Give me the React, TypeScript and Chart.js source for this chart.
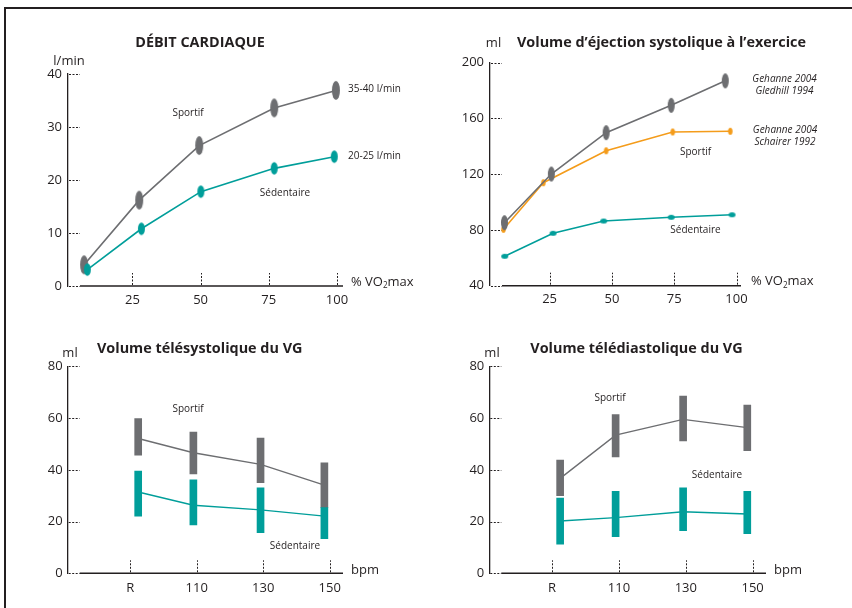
import React, { useEffect, useRef } from 'react';
import { Chart, registerables } from 'chart.js';
Chart.register(...registerables);

const INK = '#231f20';
const GRAY = '#6d6e71';
const TEAL = '#009e9a';
const ORANGE = '#f49c1b';
const FONT = '"Open Sans", "Noto Sans", sans-serif';

// ---------- Débit cardiaque ----------
const dcTicksX = [25, 50, 75, 100];
const dcTicksY = [0, 10, 20, 30, 40];
const dcSportifX = [7.3, 27.5, 49.5, 77, 99.6];
const dcSportifY = [4, 16.2, 26.5, 33.6, 36.9];
const dcSedX = [8.5, 28.3, 50.1, 77, 99];
const dcSedY = [3.1, 10.8, 17.8, 22.2, 24.4];

// ---------- Volume d'éjection systolique ----------
const vesTicksX = [25, 50, 75, 100];
const vesTicksY = [40, 80, 120, 160, 200];
const vesGledhillX = [6.9, 25.7, 47.7, 73.8, 95.5];
const vesGledhillY = [85.2, 120.1, 149.8, 169.4, 187];
const vesSchairerX = [6.5, 22.5, 47.7, 74.4, 97.5];
const vesSchairerY = [80.5, 113.9, 136.8, 150.3, 150.8];
const vesSedX = [7, 26.4, 46.7, 73.8, 98.2];
const vesSedY = [61.1, 77.6, 86.4, 89.1, 90.9];

// ---------- Volumes VG (bpm) ----------
const bpmLabels = ['R', '110', '130', '150'];
const bpmTickPos = [0, 1, 2, 3];
const bpmMarkPos = [0.12, 0.95, 1.96, 2.92];
const vgTicksY = [0, 20, 40, 60, 80];

const vtsSportifLow = [45.7, 38.4, 35, 25.4];
const vtsSportifHigh = [59.8, 54.6, 52.3, 42.7];
const vtsSportifMid = [52.1, 46.6, 42.1, 34.1];
const vtsSedLow = [22.1, 18.7, 15.7, 13.4];
const vtsSedHigh = [39.5, 36.1, 33, 25.4];
const vtsSedMid = [31.4, 26.3, 24.5, 22.1];

const vtdSportifLow = [30, 45, 51.2, 47.4];
const vtdSportifHigh = [43.8, 61.3, 68.5, 65];
const vtdSportifMid = [36.7, 53.4, 59.5, 56.3];
const vtdSedLow = [11.3, 14.2, 16.5, 15.3];
const vtdSedHigh = [29.1, 31.7, 33, 31.7];
const vtdSedMid = [20.2, 21.5, 23.8, 22.9];

type TextItem = {
  t: string; x: number; y: number; size?: number; bold?: boolean; italic?: boolean;
  align?: CanvasTextAlign; vo2?: boolean;
};

function ellipseImg(w: number, h: number, color: string) {
  const c = document.createElement('canvas');
  const pw = Math.ceil(w) + 2;
  const ph = Math.ceil(h) + 2;
  c.width = pw;
  c.height = ph;
  const ctx = c.getContext('2d')!;
  ctx.fillStyle = color;
  ctx.beginPath();
  ctx.ellipse(pw / 2, ph / 2, w / 2, h / 2, 0, 0, Math.PI * 2);
  ctx.fill();
  return c;
}

function font(size: number, bold?: boolean, italic?: boolean) {
  return `${italic ? 'italic ' : ''}${bold ? 'bold ' : ''}${size}px ${FONT}`;
}

function makeDecor(texts: TextItem[]) {
  return {
    id: 'decor',
    beforeDatasetsDraw(chart: any) {
      const { ctx, chartArea: a, scales } = chart;
      const xs = scales.x;
      const ys = scales.y;
      ctx.save();
      ctx.strokeStyle = INK;
      ctx.lineWidth = 1;
      ctx.setLineDash([2, 1.5]);
      for (const t of ys.ticks) {
        const y = Math.round(ys.getPixelForValue(t.value)) + 0.5;
        ctx.beginPath();
        ctx.moveTo(a.left + 1, y);
        ctx.lineTo(a.left + 12, y);
        ctx.stroke();
      }
      for (const t of xs.ticks) {
        const x = Math.round(xs.getPixelForValue(t.value)) + 0.5;
        ctx.beginPath();
        ctx.moveTo(x, a.bottom - 1);
        ctx.lineTo(x, a.bottom - 13);
        ctx.stroke();
      }
      ctx.setLineDash([]);
      ctx.lineWidth = 1.5;
      ctx.beginPath();
      ctx.moveTo(a.left + 12, a.bottom);
      ctx.lineTo(a.right, a.bottom);
      ctx.stroke();
      ctx.restore();
    },
    afterDraw(chart: any) {
      const ctx = chart.ctx as CanvasRenderingContext2D;
      ctx.save();
      ctx.fillStyle = INK;
      ctx.textBaseline = 'middle';
      for (const it of texts) {
        const s = it.size ?? 10;
        if (it.vo2) {
          ctx.textAlign = 'left';
          ctx.font = font(s);
          let x = it.x;
          ctx.fillText('% VO', x, it.y);
          x += ctx.measureText('% VO').width;
          ctx.font = font(s * 0.62);
          ctx.fillText('2', x, it.y + s * 0.3);
          x += ctx.measureText('2').width;
          ctx.font = font(s);
          ctx.fillText('max', x, it.y);
          continue;
        }
        ctx.font = font(s, it.bold, it.italic);
        ctx.textAlign = it.align ?? 'center';
        ctx.fillText(it.t, it.x, it.y);
      }
      ctx.restore();
    },
  };
}

type Area = { l: number; r: number; t: number; b: number };
const CW = 426;
const CH = 304;
const WY = 50;
const HX = 30;

function baseOptions(area: Area, x: any, y: any, yPad: number, xPad: number) {
  return {
    responsive: false,
    animation: false,
    devicePixelRatio: 1,
    layout: {
      padding: { left: area.l - WY, right: CW - area.r, top: area.t, bottom: CH - area.b - HX },
    },
    plugins: { legend: { display: false }, tooltip: { enabled: false }, title: { display: false } },
    scales: {
      x: {
        type: 'linear',
        offset: false,
        min: x.min,
        max: x.max,
        grid: { display: false, drawTicks: false, offset: false },
        border: { display: false },
        ticks: {
          color: INK,
          font: { family: FONT, size: 13 },
          padding: xPad,
          maxRotation: 0,
          autoSkip: false,
          callback: x.callback,
        },
        afterBuildTicks: (s: any) => { s.ticks = x.ticks.map((v: number) => ({ value: v })); },
        afterFit: (s: any) => { s.height = HX; s.paddingLeft = 0; s.paddingRight = 0; },
      },
      y: {
        type: 'linear',
        min: y.min,
        max: y.max,
        grid: { display: false, drawTicks: false },
        border: { display: true, color: INK, width: 1.3 },
        ticks: { color: INK, font: { family: FONT, size: 13 }, padding: yPad, autoSkip: false },
        afterBuildTicks: (s: any) => { s.ticks = y.ticks.map((v: number) => ({ value: v })); },
        afterFit: (s: any) => { s.width = WY; s.paddingTop = 0; s.paddingBottom = 0; },
      },
    },
  };
}

function pts(xs: number[], ys: number[]) {
  return xs.map((x, i) => ({ x, y: ys[i] }));
}
function bars(xs: number[], lo: number[], hi: number[]) {
  return xs.map((x, i) => ({ x, y: [lo[i], hi[i]] }));
}

function lineDs(data: any[], color: string, img: HTMLCanvasElement | null, order: number, width = 1.6) {
  return {
    type: 'line',
    data,
    borderColor: color,
    backgroundColor: color,
    borderWidth: width,
    tension: 0,
    pointStyle: img ?? 'circle',
    pointRadius: img ? 5 : 0,
    order,
  };
}
function barDs(data: any[], color: string, order: number) {
  return {
    type: 'bar',
    data,
    backgroundColor: color,
    borderWidth: 0,
    barThickness: 7,
    grouped: false,
    order,
  };
}

const TITLE = 14.4;

function buildConfigs() {
  const g1 = ellipseImg(8, 19, GRAY);
  const t1 = ellipseImg(7, 12.5, TEAL);
  const g2 = ellipseImg(7, 15, GRAY);
  const o2 = ellipseImg(4.5, 7, ORANGE);
  const t2 = ellipseImg(7, 5, TEAL);

  const c1 = {
    type: 'line',
    data: {
      datasets: [
        lineDs(pts(dcSportifX, dcSportifY), GRAY, g1, 1),
        lineDs(pts(dcSedX, dcSedY), TEAL, t1, 0),
      ],
    },
    options: baseOptions(
      { l: 68, r: 343, t: 74, b: 286 },
      { min: 1.4, max: 102.2, ticks: dcTicksX },
      { min: 0, max: 40, ticks: dcTicksY },
      6, 6,
    ),
    plugins: [makeDecor([
      { t: 'DÉBIT CARDIAQUE', x: 200, y: 43, size: TITLE, bold: true },
      { t: 'l/min', x: 69, y: 61, size: 13 },
      { t: 'Sportif', x: 188, y: 113 },
      { t: 'Sédentaire', x: 285, y: 193 },
      { t: '35-40 l/min', x: 348, y: 89, align: 'left' },
      { t: '20-25 l/min', x: 348, y: 156, align: 'left' },
      { t: '', x: 351, y: 282, size: 13, vo2: true },
    ])],
  };

  const c2 = {
    type: 'line',
    data: {
      datasets: [
        lineDs(pts(vesGledhillX, vesGledhillY), GRAY, g2, 0),
        lineDs(pts(vesSchairerX, vesSchairerY), ORANGE, o2, 1),
        lineDs(pts(vesSedX, vesSedY), TEAL, t2, 2),
      ],
    },
    options: baseOptions(
      { l: 64, r: 315, t: 62.7, b: 285.7 },
      { min: 1.1, max: 101.8, ticks: vesTicksX },
      { min: 40, max: 200, ticks: vesTicksY },
      6, 6,
    ),
    plugins: [makeDecor([
      { t: 'Volume d’éjection systolique à l’exercice', x: 235.5, y: 43, size: TITLE, bold: true },
      { t: 'ml', x: 67.5, y: 43, size: 13 },
      { t: 'Gehanne 2004', x: 358.5, y: 79, italic: true },
      { t: 'Gledhill 1994', x: 358.5, y: 90.7, italic: true },
      { t: 'Gehanne 2004', x: 359, y: 130, italic: true },
      { t: 'Schairer 1992', x: 359, y: 141.7, italic: true },
      { t: 'Sportif', x: 269.5, y: 151.7 },
      { t: 'Sédentaire', x: 269.5, y: 230 },
      { t: '', x: 325, y: 281.7, size: 13, vo2: true },
    ])],
  };

  const bpmX = { min: -0.94, max: 3.2, ticks: bpmTickPos, callback: (v: number) => bpmLabels[v] };

  const c3 = {
    type: 'bar',
    data: {
      datasets: [
        barDs(bars(bpmMarkPos, vtsSedLow, vtsSedHigh), TEAL, 0),
        barDs(bars(bpmMarkPos, vtsSportifLow, vtsSportifHigh), GRAY, 1),
        lineDs(pts(bpmMarkPos, vtsSedMid), TEAL, null, 2, 1.4),
        lineDs(pts(bpmMarkPos, vtsSportifMid), GRAY, null, 3, 1.4),
      ],
    },
    options: baseOptions(
      { l: 67.7, r: 343, t: 62.3, b: 269.3 },
      bpmX,
      { min: 0, max: 80, ticks: vgTicksY },
      5, 7,
    ),
    plugins: [makeDecor([
      { t: 'Volume télésystolique du VG', x: 199.7, y: 45, size: TITLE, bold: true },
      { t: 'ml', x: 70, y: 49.3, size: 13 },
      { t: 'Sportif', x: 188, y: 104.7 },
      { t: 'Sédentaire', x: 295, y: 241.7 },
      { t: 'bpm', x: 351, y: 266.7, size: 13, align: 'left' },
    ])],
  };

  const c4 = {
    type: 'bar',
    data: {
      datasets: [
        barDs(bars(bpmMarkPos, vtdSedLow, vtdSedHigh), TEAL, 0),
        barDs(bars(bpmMarkPos, vtdSportifLow, vtdSportifHigh), GRAY, 1),
        lineDs(pts(bpmMarkPos, vtdSedMid), TEAL, null, 2, 1.4),
        lineDs(pts(bpmMarkPos, vtdSportifMid), GRAY, null, 3, 1.4),
      ],
    },
    options: baseOptions(
      { l: 63.3, r: 340, t: 62.3, b: 269.3 },
      bpmX,
      { min: 0, max: 80, ticks: vgTicksY },
      5, 7,
    ),
    plugins: [makeDecor([
      { t: 'Volume télédiastolique du VG', x: 210.5, y: 45, size: TITLE, bold: true },
      { t: 'ml', x: 66, y: 49.3, size: 13 },
      { t: 'Sportif', x: 184, y: 94 },
      { t: 'Sédentaire', x: 291, y: 170.7 },
      { t: 'bpm', x: 348, y: 266.7, size: 13, align: 'left' },
    ])],
  };

  return [c1, c2, c3, c4];
}

const POS = [
  { left: 0, top: 0 },
  { left: 426, top: 0 },
  { left: 0, top: 304 },
  { left: 426, top: 304 },
];

export default function App() {
  const refs = [useRef<HTMLCanvasElement>(null), useRef<HTMLCanvasElement>(null), useRef<HTMLCanvasElement>(null), useRef<HTMLCanvasElement>(null)];
  useEffect(() => {
    const cfgs = buildConfigs();
    const charts = cfgs.map((cfg, i) => new Chart(refs[i].current as HTMLCanvasElement, cfg as any));
    return () => charts.forEach((c) => c.destroy());
  }, []);
  return (
    <div style={{ position: 'fixed', left: 0, top: 0, width: 852, height: 608, background: '#fff', overflow: 'hidden' }}>
      {POS.map((p, i) => (
        <canvas key={i} ref={refs[i]} width={CW} height={CH}
          style={{ position: 'absolute', left: p.left, top: p.top, width: CW, height: CH }} />
      ))}
      <div style={{
        position: 'absolute', left: 4, top: 7, width: 848, height: 601, boxSizing: 'border-box',
        borderLeft: `2px solid ${INK}`, borderTop: `2px solid ${INK}`, pointerEvents: 'none',
      }} />
    </div>
  );
}
